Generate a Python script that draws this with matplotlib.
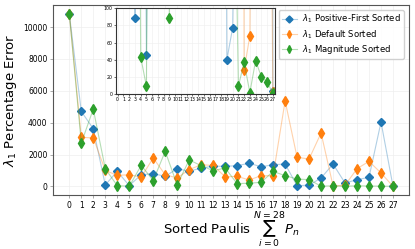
import numpy as np
import matplotlib.pyplot as plt
from matplotlib.colors import to_rgb

# === data ===
paulis = np.arange(28)

pos_first = [10830, 4700, 3620, 89, 940, 46, 730, 800, 630, 1110,
             950, 1150, 1270, 1255, 1300, 1450, 1230, 1360, 1400, 40,
             77, 525, 1400, 210, 420, 565, 4040, 3]
default = [10830, 3070, 3050, 1000, 690, 730, 580, 1780, 730, 525,
           1050, 1360, 1310, 600, 630, 400, 670, 670, 5370, 1820,
           1720, 3350, 28, 68, 1110, 1570, 840, 2]
magnitude = [10830, 2720, 4850, 1110, 43, 9, 1320, 360, 2200, 89,
             1660, 1300, 985, 1150, 170, 200, 250, 940, 670, 460,
             420, 9, 37, 1.5, 39, 20, 14, 1]

series = [
    (pos_first, r"$\lambda_1$ Positive-First Sorted", "#1f77b4", "D", 4.2),
    (default, r"$\lambda_1$ Default Sorted", "#ff7f0e", "d", 4.6),
    (magnitude, r"$\lambda_1$ Magnitude Sorted", "#2ca02c", "d", 4.6),
]

fig = plt.figure(figsize=(4.15, 2.49), dpi=100)
ax = fig.add_axes([0.128, 0.217, 0.858, 0.762])
axin = fig.add_axes([0.2795, 0.6225, 0.3835, 0.3445])


def draw(a):
    for vals, lab, col, mk, ms in series:
        a.plot(paulis, vals, color=col, alpha=0.35, lw=0.8)
        a.plot(paulis, vals, ls="none", marker=mk, ms=ms, color=col)


draw(ax)
ax.set_xticks(paulis)
ax.set_yticks([0, 2000, 4000, 6000, 8000, 10000])
ax.tick_params(labelsize=5.5, length=2, width=0.5, color="#888888", pad=2)
ax.grid(True, color="#eeeeee", lw=0.5)
for s in ax.spines.values():
    s.set_color("#555555")
    s.set_linewidth(0.8)
ax.set_ylabel(r"$\lambda_1$ Percentage Error", fontsize=9.5, labelpad=3)
ax.set_xlabel(r"Sorted Paulis $\sum_{i=0}^{N=28}P_n$", fontsize=9.5,
              labelpad=0)

# legend: faint line, opaque marker
handles = []
for vals, lab, col, mk, ms in series:
    h, = ax.plot([], [], color=(*to_rgb(col), 0.35), lw=0.8, marker=mk,
                 ms=ms, markerfacecolor=col, markeredgecolor=col, label=lab)
    handles.append(h)
ax.legend(handles=handles, loc="upper right", fontsize=6.1,
          framealpha=0.9, edgecolor="#cccccc", borderpad=0.35,
          handlelength=1.8, handletextpad=0.6, labelspacing=0.3,
          markerscale=0.85, bbox_to_anchor=(0.997, 0.997))

# === inset zoom 0-100 ===
draw(axin)
axin.set_xlim(-0.3, 27.4)
axin.set_ylim(0, 100)
axin.set_xticks(paulis)
axin.set_yticks([0, 20, 40, 60, 80, 100])
axin.tick_params(labelsize=3.4, length=1.5, width=0.4, pad=1)
axin.grid(True, color="#eeeeee", lw=0.4)
for s in axin.spines.values():
    s.set_color("#333333")
    s.set_linewidth(0.8)

plt.savefig("out.png", dpi=100)
plt.close()
